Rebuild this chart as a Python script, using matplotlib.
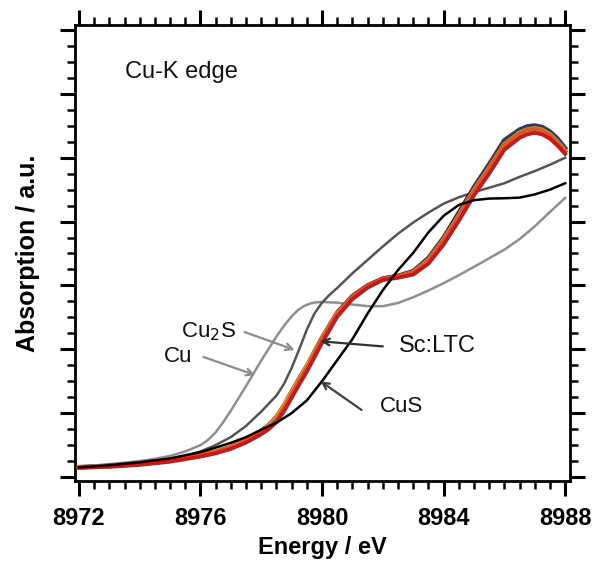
import matplotlib
matplotlib.use("Agg")
import matplotlib.pyplot as plt
from matplotlib.ticker import MultipleLocator, NullFormatter

plt.rcParams['font.family'] = ['Liberation Sans', 'DejaVu Sans']

# ---------------- data ----------------
e_cu = [8972, 8973, 8974, 8974.5, 8975, 8975.5, 8976, 8976.25, 8976.5, 8976.75, 8977,
        8977.5, 8978, 8978.5, 8978.75, 8979, 8979.2, 8979.4, 8979.6, 8979.8, 8980,
        8980.5, 8981, 8981.5, 8982, 8982.5, 8983, 8983.5, 8984, 8984.5, 8985,
        8985.5, 8986, 8986.5, 8987, 8987.5, 8988]
v_cu = [0.032, 0.040, 0.050, 0.057, 0.066, 0.080, 0.100, 0.116, 0.140, 0.172, 0.208,
        0.285, 0.365, 0.440, 0.474, 0.503, 0.522, 0.535, 0.543, 0.547, 0.548,
        0.546, 0.540, 0.535, 0.535, 0.545, 0.563, 0.584, 0.607, 0.632, 0.658,
        0.685, 0.712, 0.745, 0.785, 0.830, 0.874]

e_cu2s = [8972, 8973, 8974, 8975, 8975.5, 8976, 8976.5, 8977, 8977.5, 8978, 8978.5,
          8978.75, 8979, 8979.25, 8979.5, 8979.75, 8980, 8980.25, 8980.5, 8981, 8981.5,
          8982, 8982.5, 8983, 8983.5, 8984, 8984.5, 8985, 8985.5, 8986, 8986.5, 8987,
          8987.5, 8988]
v_cu2s = [0.032, 0.038, 0.046, 0.058, 0.066, 0.080, 0.100, 0.125, 0.160, 0.205, 0.255,
          0.292, 0.342, 0.400, 0.462, 0.512, 0.546, 0.571, 0.592, 0.638, 0.680,
          0.722, 0.762, 0.797, 0.828, 0.856, 0.876, 0.892, 0.906, 0.920, 0.940, 0.958,
          0.978, 1.000]

e_cus = [8972, 8973, 8974, 8975, 8976, 8976.5, 8977, 8977.5, 8978, 8978.5, 8979,
         8979.5, 8980, 8980.5, 8981, 8981.5, 8982, 8982.5, 8983, 8983.5, 8984,
         8984.5, 8985, 8985.5, 8986, 8986.5, 8987, 8987.5, 8988]
v_cus = [0.030, 0.037, 0.046, 0.058, 0.078, 0.092, 0.107, 0.125, 0.148, 0.170, 0.200,
         0.240, 0.300, 0.366, 0.432, 0.512, 0.585, 0.648, 0.702, 0.766, 0.818,
         0.852, 0.867, 0.872, 0.873, 0.875, 0.885, 0.900, 0.920]

e_sc = [8972, 8973, 8974, 8975, 8976, 8976.5, 8977, 8977.5, 8978, 8978.25, 8978.5,
        8978.75, 8979, 8979.25, 8979.5, 8980, 8980.5, 8981, 8981.5, 8982, 8982.5,
        8983, 8983.5, 8984, 8984.5, 8985, 8985.5, 8986, 8986.5, 8986.75, 8987,
        8987.25, 8987.5, 8987.75, 8988]
v_sc_navy = [0.031, 0.035, 0.042, 0.053, 0.069, 0.079, 0.094, 0.116, 0.145, 0.163, 0.188,
             0.225, 0.268, 0.309, 0.348, 0.437, 0.515, 0.567, 0.600, 0.622, 0.630,
             0.645, 0.686, 0.750, 0.828, 0.908, 0.980, 1.055, 1.088, 1.098, 1.101,
             1.096, 1.082, 1.060, 1.030]
v_sc_olive = [0.030, 0.034, 0.041, 0.052, 0.068, 0.078, 0.093, 0.115, 0.143, 0.161, 0.186,
              0.224, 0.266, 0.307, 0.347, 0.434, 0.512, 0.563, 0.596, 0.619, 0.627,
              0.641, 0.680, 0.743, 0.818, 0.898, 0.968, 1.042, 1.078, 1.088, 1.092,
              1.087, 1.073, 1.050, 1.022]
v_sc_orange = [0.030, 0.034, 0.041, 0.052, 0.068, 0.078, 0.092, 0.113, 0.140, 0.157, 0.180,
               0.215, 0.258, 0.300, 0.340, 0.430, 0.510, 0.563, 0.597, 0.620, 0.627,
               0.640, 0.678, 0.740, 0.815, 0.895, 0.965, 1.040, 1.075, 1.086, 1.090,
               1.085, 1.070, 1.048, 1.020]
v_sc_red = [0.029, 0.032, 0.038, 0.048, 0.064, 0.074, 0.088, 0.108, 0.134, 0.150, 0.172,
            0.206, 0.248, 0.290, 0.330, 0.420, 0.502, 0.557, 0.593, 0.617, 0.624,
            0.634, 0.668, 0.728, 0.802, 0.882, 0.950, 1.025, 1.062, 1.073, 1.078,
            1.073, 1.060, 1.038, 1.012]

x_ticks = [8972, 8976, 8980, 8984, 8988]

# annotations: label, arrow start, arrow tip, label centre, colour, size
labels = ["Cu$_2$S", "Cu", "Sc:LTC", "CuS"]
arrow_from = [(8977.45, 0.454), (8976.1, 0.376), (8982.0, 0.409), (8981.3, 0.21)]
arrow_to = [(8979.1, 0.398), (8977.8, 0.319), (8979.95, 0.425), (8979.95, 0.30)]
label_xy = [(8976.25, 0.454), (8975.25, 0.376), (8983.8, 0.409), (8982.6, 0.222)]
arrow_cols = ["#8c8c8c", "#8c8c8c", "#303030", "#404040"]
label_sizes = [16, 16, 17, 16]

# ---------------- figure ----------------
fig = plt.figure(figsize=(5.95, 5.61), dpi=100)
ax = fig.add_axes([75/595, 1 - 481/561, (570 - 75)/595, (481 - 25)/561])

ax.plot(e_cu, v_cu, color="#8f8f8f", lw=1.8, zorder=2)
ax.plot(e_cu2s, v_cu2s, color="#555555", lw=1.8, zorder=2)
ax.plot(e_sc, v_sc_navy, color="#2e3a66", lw=3.2, zorder=3)
ax.plot(e_sc, v_sc_olive, color="#c9a83a", lw=3.2, zorder=3)
ax.plot(e_sc, v_sc_orange, color="#c8602a", lw=3.2, zorder=3)
ax.plot(e_sc, v_sc_red, color="#d01515", lw=2.8, zorder=3)
ax.plot(e_cus, v_cus, color="#000000", lw=1.8, zorder=4)

for lab, a0, a1, txy, col, fs in zip(labels, arrow_from, arrow_to, label_xy,
                                     arrow_cols, label_sizes):
    ax.annotate("", xy=a1, xytext=a0,
                arrowprops=dict(arrowstyle="->", color=col, lw=1.6,
                                mutation_scale=12, shrinkA=0, shrinkB=0), zorder=5)
    ax.text(txy[0], txy[1], lab, fontsize=fs, ha="center", va="center", color="#111111")

ax.text(8973.5, 1.268, "Cu-K edge", fontsize=17, ha="left", va="center", color="#111111")

ax.set_xlim(8971.87, 8988.16)
ax.set_ylim(-0.0125, 1.4156)

ax.xaxis.set_minor_locator(MultipleLocator(0.5))
ax.yaxis.set_major_locator(MultipleLocator(0.2))
ax.yaxis.set_minor_locator(MultipleLocator(0.05))
ax.set_xticks(x_ticks)
ax.yaxis.set_major_formatter(NullFormatter())

ax.tick_params(which="both", direction="out", top=True, right=True, width=2.2, color="black")
ax.tick_params(which="major", length=11)
ax.tick_params(which="minor", length=5.5, width=1.8)
ax.tick_params(axis="x", which="major", labelsize=17, pad=8)
for t in ax.get_xticklabels():
    t.set_fontweight("bold")

for s in ax.spines.values():
    s.set_linewidth(2.0)

ax.set_xlabel("Energy / eV", fontsize=17, fontweight="bold", labelpad=4)
ax.set_ylabel("Absorption / a.u.", fontsize=18, fontweight="bold", labelpad=11)

fig.savefig("out.png", dpi=100)
